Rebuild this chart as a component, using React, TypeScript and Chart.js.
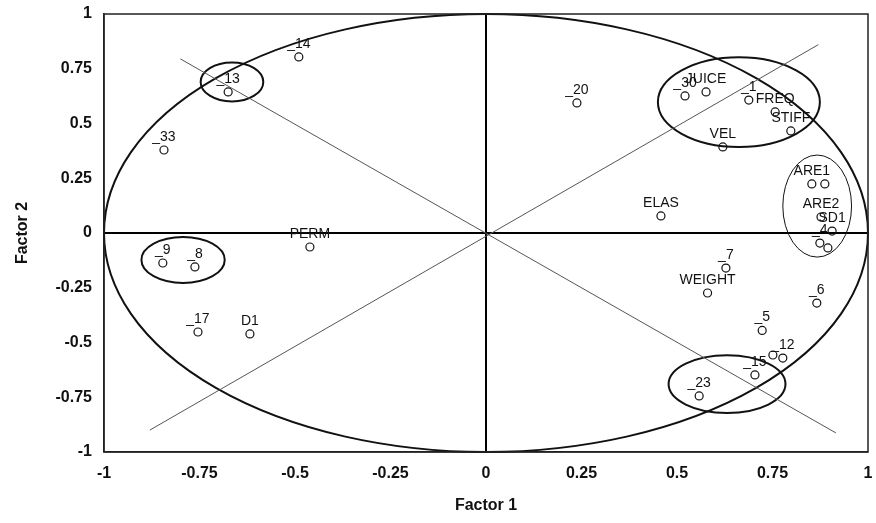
import { useEffect, useRef } from "react";
import { Chart, registerables } from "chart.js";

Chart.register(...registerables);

// Axis ticks
const axisTicks = [-1, -0.75, -0.5, -0.25, 0, 0.25, 0.5, 0.75, 1];
const axisTickLabels = ["-1", "-0.75", "-0.5", "-0.25", "0", "0.25", "0.5", "0.75", "1"];

// Loadings / case scores (Factor 1, Factor 2)
const pointLabels = [
  "_20", "_30", "JUICE", "_1", "FREQ", "STIFF", "VEL", "ELAS",
  "ARE1", "", "ARE2", "SD1", "_4", "",
  "_7", "WEIGHT", "_6", "_5", "", "_12", "_15", "_23",
  "_14", "_13", "_33", "PERM", "_9", "_8", "_17", "D1",
];
const factor1 = [
  0.238, 0.521, 0.576, 0.688, 0.757, 0.798, 0.62, 0.458,
  0.853, 0.887, 0.877, 0.906, 0.874, 0.895,
  0.628, 0.58, 0.866, 0.723, 0.751, 0.777, 0.704, 0.558,
  -0.49, -0.675, -0.843, -0.461, -0.846, -0.762, -0.754, -0.618,
];
const factor2 = [
  0.594, 0.626, 0.644, 0.607, 0.553, 0.466, 0.393, 0.078,
  0.224, 0.224, 0.073, 0.009, -0.046, -0.068,
  -0.16, -0.274, -0.32, -0.445, -0.557, -0.571, -0.648, -0.744,
  0.804, 0.644, 0.379, -0.064, -0.137, -0.155, -0.452, -0.461,
];

// Diagonal reference lines
const diagUpX = [-0.88, 0.87];
const diagUpY = [-0.9, 0.86];
const diagDownX = [-0.8, 0.916];
const diagDownY = [0.795, -0.913];

// Unit circle and cluster ellipses (data units)
const ellipseCx = [0, -0.665, -0.793, 0.662, 0.867, 0.631];
const ellipseCy = [0, 0.69, -0.123, 0.598, 0.123, -0.69];
const ellipseRx = [1, 0.082, 0.109, 0.212, 0.09, 0.153];
const ellipseRy = [1, 0.089, 0.105, 0.205, 0.233, 0.132];
const ellipseLine = [2, 2, 2, 2, 1, 2];

const FONT = "'Liberation Sans', Arial, Helvetica, sans-serif";

const overlayPlugin = {
  id: "overlay",
  beforeDatasetsDraw(chart: any) {
    const { ctx, chartArea, scales } = chart;
    const xs = scales.x;
    const ys = scales.y;
    ctx.save();
    ctx.strokeStyle = "#111";
    for (let i = 0; i < ellipseCx.length; i++) {
      const cx = xs.getPixelForValue(ellipseCx[i]);
      const cy = ys.getPixelForValue(ellipseCy[i]);
      const rx = Math.abs(xs.getPixelForValue(ellipseCx[i] + ellipseRx[i]) - cx);
      const ry = Math.abs(ys.getPixelForValue(ellipseCy[i] + ellipseRy[i]) - cy);
      ctx.lineWidth = ellipseLine[i];
      ctx.beginPath();
      ctx.ellipse(cx, cy, rx, ry, 0, 0, Math.PI * 2);
      ctx.stroke();
    }
    ctx.lineWidth = 1.5;
    ctx.strokeStyle = "#222";
    ctx.strokeRect(chartArea.left, chartArea.top, chartArea.right - chartArea.left, chartArea.bottom - chartArea.top);
    ctx.restore();
  },
  afterDatasetsDraw(chart: any) {
    const { ctx, scales } = chart;
    const xs = scales.x;
    const ys = scales.y;
    ctx.save();
    ctx.fillStyle = "#111";
    ctx.font = `14px ${FONT}`;
    ctx.textAlign = "center";
    ctx.textBaseline = "alphabetic";
    for (let i = 0; i < pointLabels.length; i++) {
      if (!pointLabels[i]) continue;
      const px = xs.getPixelForValue(factor1[i]);
      const py = ys.getPixelForValue(factor2[i]);
      ctx.fillText(pointLabels[i], px, py - 9);
    }
    ctx.restore();
  },
};

function axisCommon(titleText: string, isX: boolean) {
  return {
    type: "linear" as const,
    min: -1,
    max: 1,
    afterBuildTicks: (scale: any) => {
      scale.ticks = axisTicks.map((v) => ({ value: v }));
    },
    afterFit: (scale: any) => {
      if (isX) {
        scale.height = 71;
        scale.paddingLeft = 0;
        scale.paddingRight = 0;
      } else {
        scale.width = 104;
        scale.paddingTop = 0;
        scale.paddingBottom = 0;
      }
    },
    ticks: {
      autoSkip: false,
      maxRotation: 0,
      padding: 12,
      color: "#111",
      font: { family: FONT, size: 16, weight: "bold" as const },
      callback: (_v: any, index: number) => axisTickLabels[index],
    },
    grid: {
      drawTicks: false,
      color: (c: any) => (c.tick && c.tick.value === 0 ? "#000" : "rgba(0,0,0,0)"),
      lineWidth: (c: any) => (c.tick && c.tick.value === 0 ? 2 : 0),
    },
    border: { display: true, color: "#222", width: 1.5 },
    title: {
      display: true,
      text: titleText,
      color: "#111",
      font: { family: FONT, size: 16, weight: "bold" as const },
      padding: isX ? { top: 4, bottom: 8 } : { top: 13, bottom: 4 },
    },
  };
}

export default function App() {
  const canvasRef = useRef<HTMLCanvasElement | null>(null);

  useEffect(() => {
    if (!canvasRef.current) return;
    const points = factor1.map((x, i) => ({ x, y: factor2[i] }));
    const chart = new Chart(canvasRef.current, {
      type: "scatter",
      data: {
        datasets: [
          {
            label: "diag up",
            data: diagUpX.map((x, i) => ({ x, y: diagUpY[i] })),
            showLine: true,
            borderColor: "#555",
            borderWidth: 1,
            pointRadius: 0,
          },
          {
            label: "diag down",
            data: diagDownX.map((x, i) => ({ x, y: diagDownY[i] })),
            showLine: true,
            borderColor: "#555",
            borderWidth: 1,
            pointRadius: 0,
          },
          {
            label: "points",
            data: points,
            pointStyle: "circle",
            pointRadius: 4,
            borderWidth: 1.2,
            borderColor: "#111",
            backgroundColor: "rgba(0,0,0,0)",
          },
        ],
      },
      options: {
        animation: false,
        responsive: false,
        layout: { padding: { top: 14, right: 8, left: 0, bottom: 0 } },
        plugins: {
          legend: { display: false },
          tooltip: { enabled: false },
        },
        scales: {
          x: axisCommon("Factor 1", true) as any,
          y: axisCommon("Factor 2", false) as any,
        },
      },
      plugins: [overlayPlugin],
    });
    return () => chart.destroy();
  }, []);

  return (
    <div style={{ position: "absolute", left: 0, top: 0, width: 876, height: 523, background: "#fff" }}>
      <canvas ref={canvasRef} width={876} height={523} />
    </div>
  );
}
